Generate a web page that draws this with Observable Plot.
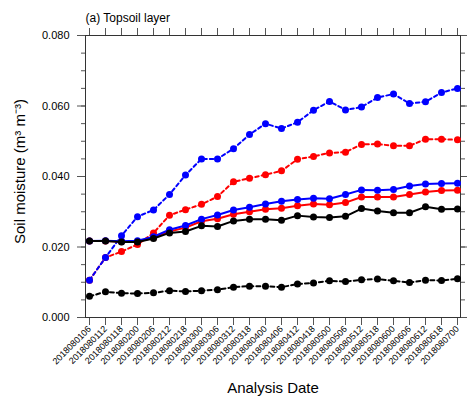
<!DOCTYPE html>
<html>
<head>
<meta charset="utf-8">
<script src="https://cdn.jsdelivr.net/npm/d3@7"></script>
<script src="https://cdn.jsdelivr.net/npm/@observablehq/plot@0.6"></script>
<style>
  html, body { margin: 0; padding: 0; background: #fff; }
</style>
</head>
<body>
<div id="chart"></div>
<script>
const dates = ["2018080106","2018080112","2018080118","2018080200","2018080206","2018080212",
  "2018080218","2018080300","2018080306","2018080312","2018080318","2018080400",
  "2018080406","2018080412","2018080418","2018080500","2018080506","2018080512",
  "2018080518","2018080600","2018080606","2018080612","2018080618","2018080700"];

const redDashed   = [0.0106,0.0170,0.0187,0.0207,0.0240,0.0290,0.0306,0.0321,0.0343,0.0385,0.0395,0.0405,
                     0.0416,0.0449,0.0457,0.0467,0.0469,0.0491,0.0492,0.0487,0.0487,0.0506,0.0506,0.0504];
const blueDashed  = [0.0106,0.0170,0.0232,0.0286,0.0305,0.0349,0.0404,0.0450,0.0450,0.0479,0.0519,0.0550,
                     0.0536,0.0554,0.0588,0.0613,0.0589,0.0597,0.0624,0.0634,0.0607,0.0612,0.0638,0.0650];
const blackDashed = [0.0060,0.0073,0.0069,0.0068,0.0070,0.0076,0.0074,0.0076,0.0079,0.0086,0.0089,0.0089,
                     0.0086,0.0095,0.0098,0.0104,0.0102,0.0107,0.0109,0.0104,0.0099,0.0106,0.0105,0.0110];
const redSolid    = [0.0217,0.0217,0.0215,0.0215,0.0226,0.0244,0.0255,0.0273,0.0280,0.0293,0.0300,0.0307,
                     0.0310,0.0317,0.0322,0.0320,0.0326,0.0342,0.0342,0.0342,0.0349,0.0356,0.0360,0.0361];
const blueSolid   = [0.0217,0.0218,0.0216,0.0218,0.0229,0.0249,0.0261,0.0279,0.0291,0.0305,0.0313,0.0322,
                     0.0330,0.0335,0.0338,0.0337,0.0349,0.0362,0.0361,0.0363,0.0373,0.0379,0.0380,0.0381];
const blackSolid  = [0.0217,0.0217,0.0214,0.0214,0.0224,0.0240,0.0244,0.0260,0.0258,0.0274,0.0279,0.0279,
                     0.0276,0.0289,0.0285,0.0284,0.0287,0.0309,0.0302,0.0297,0.0297,0.0314,0.0307,0.0308];

const yMajor = [0, 0.02, 0.04, 0.06, 0.08];
const yMinor = d3.range(0, 0.0801, 0.005);

const seriesDefs = [
  {name: "redDashed",   values: redDashed,   color: "#ff0000", dash: "3.5,3"},
  {name: "blueDashed",  values: blueDashed,  color: "#0000ff", dash: "3.5,3"},
  {name: "blackDashed", values: blackDashed, color: "#000000", dash: "4,3"},
  {name: "redSolid",    values: redSolid,    color: "#ff0000", dash: null},
  {name: "blueSolid",   values: blueSolid,   color: "#0000ff", dash: null},
  {name: "blackSolid",  values: blackSolid,  color: "#000000", dash: null}
];

const marks = [];
for (const s of seriesDefs) {
  const data = dates.map((d, i) => ({date: d, value: s.values[i]}));
  marks.push(Plot.line(data, {x: "date", y: "value", stroke: s.color, strokeWidth: 2, strokeDasharray: s.dash}));
  marks.push(Plot.dot(data, {x: "date", y: "value", fill: s.color, r: 3.5}));
}

const fmt = d3.format(".3f");
const font = "'Liberation Sans', Arial, Helvetica, sans-serif";

const chart = Plot.plot({
  width: 467,
  height: 400,
  marginLeft: 85,
  marginRight: 7,
  marginTop: 35,
  marginBottom: 83,
  style: {fontFamily: font, background: "#fff", color: "#000"},
  x: {type: "point", domain: dates, padding: 0},
  y: {domain: [0, 0.08]},
  marks: [
    Plot.axisY({ticks: yMinor, tickSize: 4, tickFormat: () => "", label: null, stroke: "#555"}),
    Plot.axisY({ticks: yMajor, tickSize: 8, tickPadding: 8, tickFormat: fmt, fontSize: 11, label: null, stroke: "#555"}),
    Plot.axisY({anchor: "right", ticks: yMinor, tickSize: 4, tickFormat: () => "", label: null, stroke: "#555"}),
    Plot.axisY({anchor: "right", ticks: yMajor, tickSize: 8, tickFormat: () => "", label: null, stroke: "#555"}),
    Plot.axisX({ticks: dates, tickSize: 8, tickRotate: -45, tickPadding: 2, fontSize: 9, label: null, stroke: "#555"}),
    Plot.axisX({anchor: "top", ticks: dates, tickSize: 8, tickFormat: () => "", label: null, stroke: "#555"}),
    Plot.frame({stroke: "#333"}),
    ...marks,
    Plot.text(["(a) Topsoil layer"], {frameAnchor: "top-left", dy: -17, textAnchor: "start", lineAnchor: "middle", fontSize: 12}),
    Plot.text(["Analysis Date"], {frameAnchor: "bottom", dy: 71, textAnchor: "middle", lineAnchor: "middle", fontSize: 15}),
    Plot.text(["Soil moisture (m\u00B3 m\u207B\u00B3)"], {frameAnchor: "left", dx: -65, dy: -5, textAnchor: "middle", lineAnchor: "middle", rotate: -90, fontSize: 15})
  ]
});

document.getElementById("chart").appendChild(chart);
</script>
</body>
</html>
